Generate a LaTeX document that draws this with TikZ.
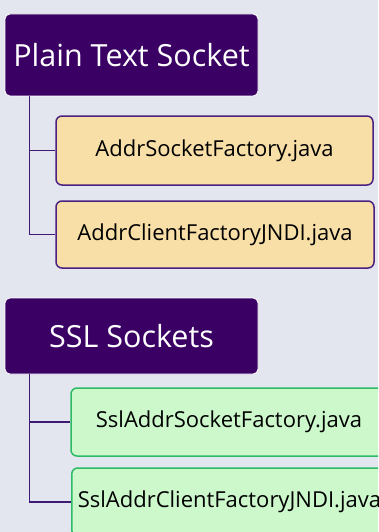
\documentclass[tikz,border=0pt]{standalone}
\usepackage{fontspec}
\setmainfont{Open Sans}
\definecolor{bgcol}{HTML}{E3E6EE}
\definecolor{headfill}{HTML}{3A0064}
\definecolor{treeline}{HTML}{3F1A75}
\definecolor{plainfill}{HTML}{F8DFA8}
\definecolor{plainedge}{HTML}{4A2080}
\definecolor{sslfill}{HTML}{CCF8CC}
\definecolor{ssledge}{HTML}{2DBB66}
\tikzset{
  header/.style={draw=white, line width=0.8pt, fill=headfill, rounded corners=5pt,
    text=white, font=\fontsize{30.5}{33}\selectfont, minimum width=253pt, inner sep=0pt},
  plainbox/.style={draw=plainedge, line width=1.5pt, fill=plainfill, rounded corners=6pt,
    font=\fontsize{22}{25}\selectfont, inner sep=0pt},
  sslbox/.style={draw=ssledge, line width=1.5pt, fill=sslfill, rounded corners=6pt,
    font=\fontsize{22}{25}\selectfont, inner sep=0pt},
  branch/.style={draw=treeline, line width=1.6pt},
}
\begin{document}
\begin{tikzpicture}[x=1pt,y=-1pt]
  \useasboundingbox (0,0) rectangle (378,532);
  \clip (0,0) rectangle (378,532);
  \fill[bgcol] (0,0) rectangle (378,532);

  % plain text group
  \node[header, minimum height=82pt] (t1) at (131.5,55) {Plain Text Socket};
  \node[plainbox, minimum width=317pt, minimum height=69pt] (b1) at (214.5,150.5) {AddrSocketFactory.java};
  \node[plainbox, minimum width=318pt, minimum height=67pt] (b2) at (215,234.5) {AddrClientFactoryJNDI.java};
  \coordinate (r1) at ([xshift=25pt]t1.south west);
  \draw[branch] (r1) |- (b1.west);
  \draw[branch] (r1) |- (b2.west);

  % ssl group
  \node[header, minimum height=76pt] (t2) at (131.5,336) {SSL Sockets};
  \node[sslbox, minimum width=316pt, minimum height=68pt] (b3) at (229,422) {SslAddrSocketFactory.java};
  \node[sslbox, anchor=west, inner xsep=6pt, minimum height=68pt] (b4) at (71,502) {SslAddrClientFactoryJNDI.java};
  \coordinate (r2) at ([xshift=25pt]t2.south west);
  \draw[branch] (r2) |- (b3.west);
  \draw[branch] (r2) |- (b4.west);
\end{tikzpicture}
\end{document}
